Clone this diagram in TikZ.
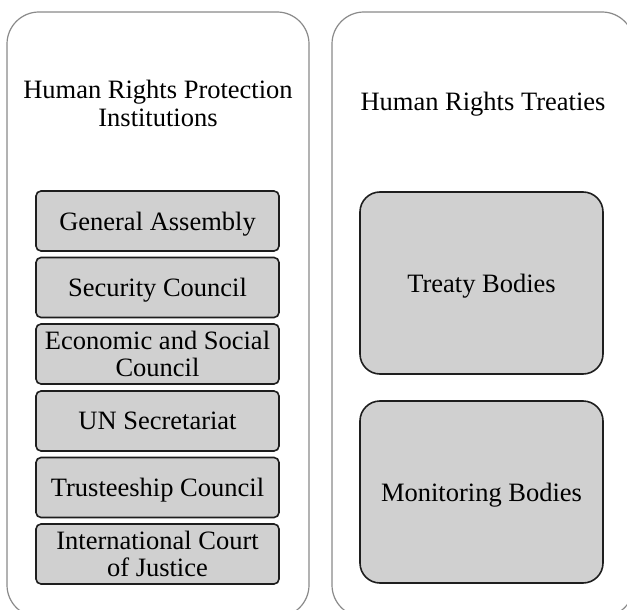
\documentclass[tikz,border=0pt]{standalone}
\usepackage{fontspec}
\setmainfont{Liberation Serif}
\definecolor{outerline}{HTML}{8A8A8A}
\definecolor{innerfill}{HTML}{D0D0D0}
\definecolor{innerline}{HTML}{1E1E1E}
\tikzset{
  outerbox/.style={draw=outerline, line width=1.2pt, rounded corners=32pt, fill=white},
  smallbox/.style={draw=innerline, fill=innerfill, line width=1.6pt, rounded corners=5pt,
    minimum width=243pt, minimum height=60pt, inner sep=0pt, align=center,
    font=\fontsize{26.5}{26.5}\selectfont},
  bigbox/.style={draw=innerline, fill=innerfill, line width=1.6pt, rounded corners=20pt,
    minimum width=243pt, minimum height=182pt, inner sep=0pt, align=center,
    font=\fontsize{26.5}{27}\selectfont},
  oneline/.style={text depth=0pt},
  titletext/.style={align=center, inner sep=0pt, font=\fontsize{26.5}{28}\selectfont}
}
\begin{document}
\begin{tikzpicture}[x=1pt, y=-1pt]
\useasboundingbox (0,0) rectangle (627,610);
\clip (0,0) rectangle (627,610);
\draw[outerbox] (7,12) rectangle (309,617);
\draw[outerbox] (332,12) rectangle (634,617);
\node[titletext] (t1) at (158,103) {Human Rights Protection\\Institutions};
\node[titletext] (t2) at (483,104) {Human Rights Treaties};
\node[smallbox, oneline] (ga) at (157.5,221) {General Assembly};
\node[smallbox, oneline] (sc) at (157.5,287.5) {Security Council};
\node[smallbox] (es) at (157.5,354) {Economic and Social\\Council};
\node[smallbox, oneline] (un) at (157.5,421) {UN Secretariat};
\node[smallbox, oneline] (tc) at (157.5,487.5) {Trusteeship Council};
\node[smallbox] (ic) at (157.5,554) {International Court\\of Justice};
\node[bigbox, oneline] (tb) at (481.5,283) {Treaty Bodies};
\node[bigbox, oneline] (mb) at (481.5,492) {Monitoring Bodies};
\end{tikzpicture}
\end{document}
